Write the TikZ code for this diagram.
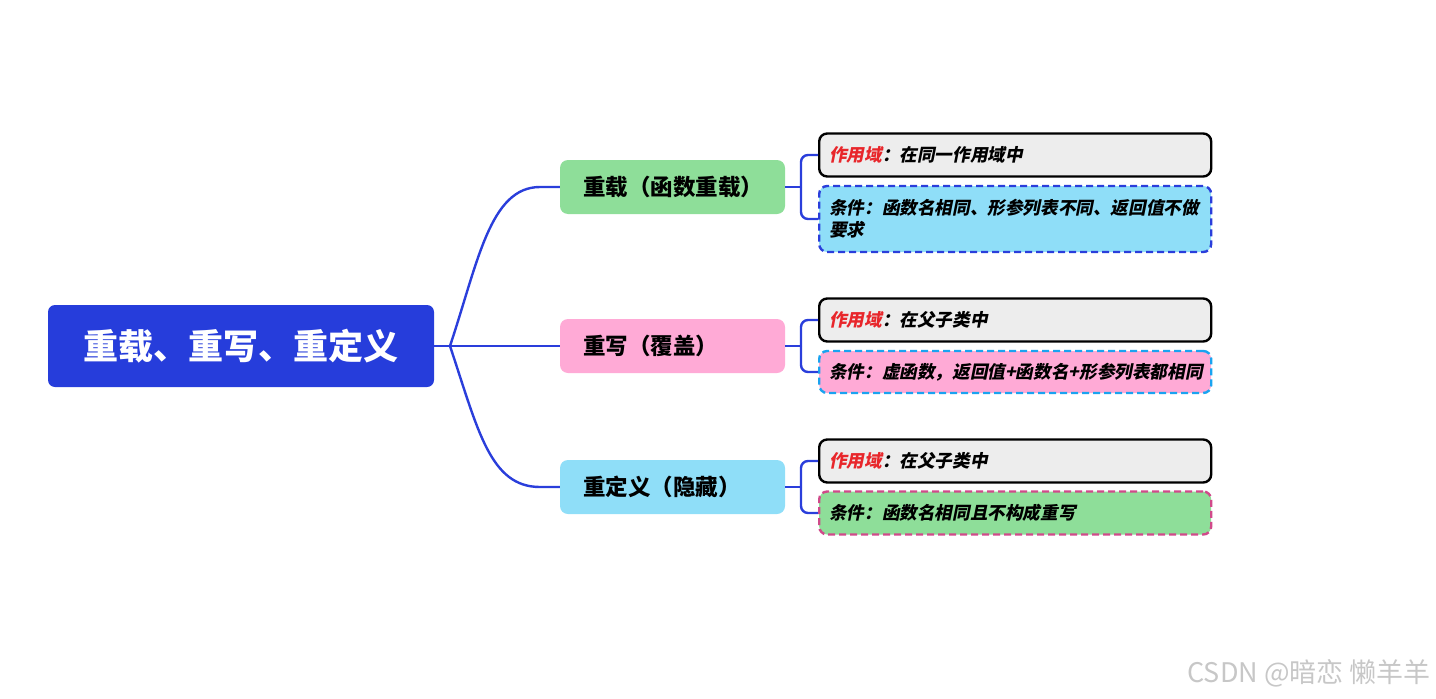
\documentclass[tikz,border=0pt]{standalone}
\usepackage{fontspec}
\newfontfamily\cjk{Noto Sans CJK SC}
\newfontfamily\cjkit{Noto Sans CJK SC}[FakeSlant=0.2]
\definecolor{rootblue}{HTML}{263DDB}
\definecolor{linkblue}{HTML}{2A3EDB}
\definecolor{lgreen}{HTML}{8EDE99}
\definecolor{lpink}{HTML}{FFAAD6}
\definecolor{lcyan}{HTML}{8FDEF8}
\definecolor{lgray}{HTML}{EDEDED}
\definecolor{scopered}{HTML}{E8262B}
\definecolor{skyline}{HTML}{1AA3F0}
\definecolor{roseline}{HTML}{D04A8A}
\begin{document}
\begin{tikzpicture}[x=1pt,y=-1pt,
  rootbox/.style={fill=rootblue, rounded corners=7pt, minimum width=386pt, minimum height=82pt,
    text=white, font=\cjk\bfseries\fontsize{35}{40}\selectfont},
  branchbox/.style={rounded corners=8pt, inner xsep=23pt, text width=179pt, minimum height=54pt,
    align=left, font=\cjk\bfseries\fontsize{22.5}{26}\selectfont},
  leafbox/.style={anchor=west, rounded corners=8pt, inner xsep=10pt, text width=372pt,
    align=left, line width=2.4pt, font=\cjkit\bfseries\fontsize{17.6}{22}\selectfont},
  scopebox/.style={leafbox, draw=black, fill=lgray, minimum height=43pt},
  condbox/.style={leafbox, dashed, dash pattern=on 7pt off 4pt},
  conn/.style={draw=linkblue, line width=2.4pt},
  bracket/.style={conn, rounded corners=7pt}
]
\useasboundingbox (0,0) rectangle (1436,699);

\node[rootbox] (root) at (241,346) {重载、重写、重定义};

\node[branchbox, fill=lgreen] (b1) at (672.5,187) {重载（函数重载）};
\node[branchbox, fill=lpink] (b2) at (672.5,346) {重写（覆盖）};
\node[branchbox, fill=lcyan] (b3) at (672.5,487) {重定义（隐藏）};

\coordinate (j) at (450,346);
\draw[conn] (root.east) -- (j);
\draw[conn] (j) .. controls (478,262) and (490,187) .. (540,187) -- (b1.west);
\draw[conn] (j) -- (b2.west);
\draw[conn] (j) .. controls (478,430) and (490,487) .. (540,487) -- (b3.west);

\node[scopebox] (l1a) at (818,155) {\textcolor{scopered}{作用域}：在同一作用域中};
\node[condbox, draw=linkblue, fill=lcyan, minimum height=66pt] (l1b) at (818,219)
  {条件：函数名相同、形参列表不同、返回值不做\\要求};
\node[scopebox] (l2a) at (818,320) {\textcolor{scopered}{作用域}：在父子类中};
\node[condbox, draw=skyline, fill=lpink, minimum height=42pt] (l2b) at (818,372)
  {条件：虚函数，返回值+函数名+形参列表都相同};
\node[scopebox] (l3a) at (818,461) {\textcolor{scopered}{作用域}：在父子类中};
\node[condbox, draw=roseline, fill=lgreen, minimum height=43pt] (l3b) at (818,513)
  {条件：函数名相同且不构成重写};

\coordinate (k1) at (801,187);
\coordinate (k2) at (801,346);
\coordinate (k3) at (801,487);
\draw[conn] (b1.east) -- (k1);
\draw[conn] (b2.east) -- (k2);
\draw[conn] (b3.east) -- (k3);
\draw[bracket] (k1) |- (l1a.west);
\draw[bracket] (k1) |- (l1b.west);
\draw[bracket] (k2) |- (l2a.west);
\draw[bracket] (k2) |- (l2b.west);
\draw[bracket] (k3) |- (l3a.west);
\draw[bracket] (k3) |- (l3b.west);

\node[anchor=east, text=black!22, font=\cjk\fontsize{27}{30}\selectfont, inner sep=0pt] (wm) at (1431,673) {CSDN @暗恋 懒羊羊};
\end{tikzpicture}
\end{document}
